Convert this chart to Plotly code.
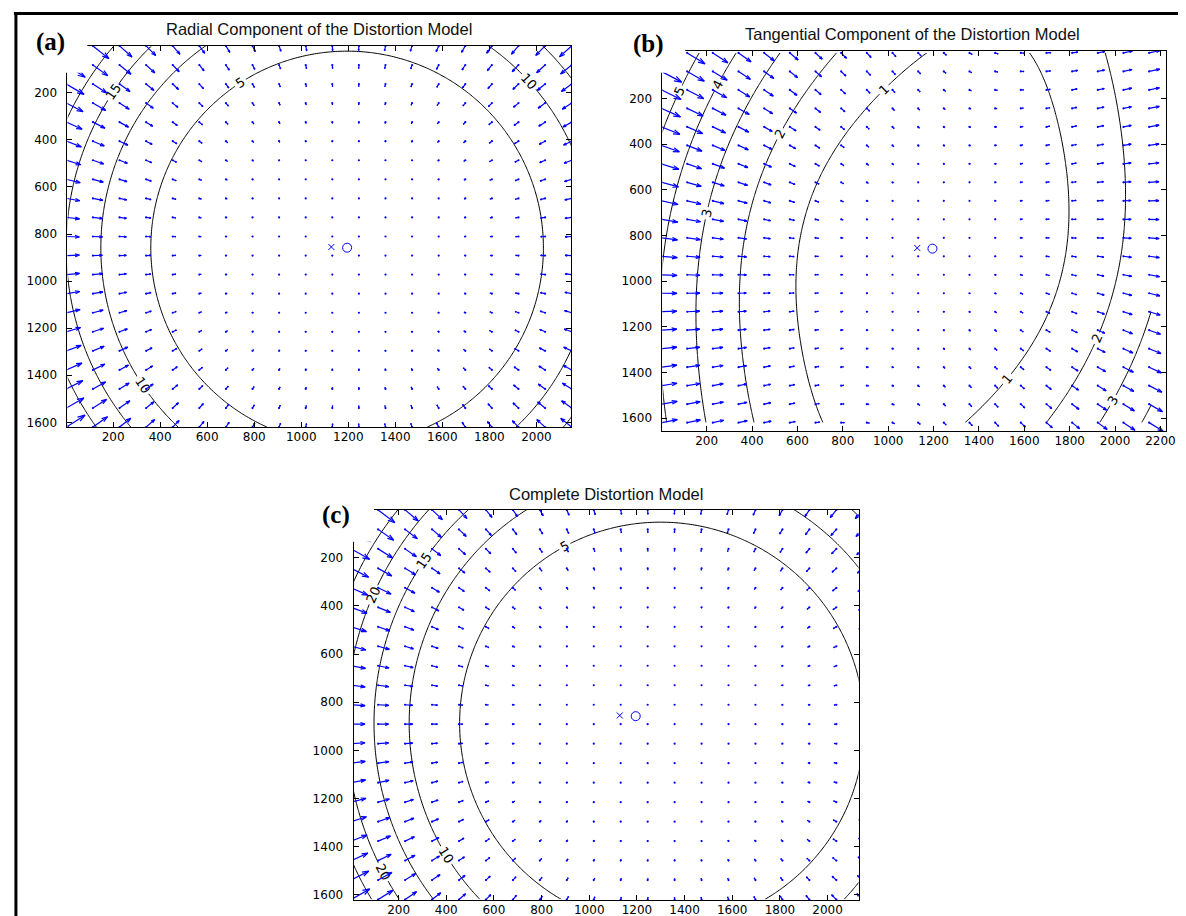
import numpy as np
import plotly.graph_objects as go

W, H = 1186, 916

# ---- values -----------------------------------------------------------------
IMAGE_SIZE = [2150, 1620]            # nx, ny of the calibrated image (pixels)
PRINCIPAL_POINT = [1195, 858]        # blue 'o'
IMAGE_CENTER = [1128, 855]           # blue 'x'
RADIAL_K = [8.4, 0.28]               # radial shift (px) = k1*r^3 + k2*r^5, r in units of 1000 px (inward)
TANGENTIAL_P = [0.30, 0.95]          # p1, p2 (px per (1000 px)^2)
GRID_COLS, GRID_ROWS = 20, 21        # quiver sample grid
ARROW_SCALE = 0.8                    # longest arrow relative to grid diagonal

PANEL_TITLES = ["Radial Component of the Distortion Model",
                "Tangential Component of the Distortion Model",
                "Complete Distortion Model"]
PANEL_LETTERS = ["(a)", "(b)", "(c)"]
PANEL_KINDS = ["radial", "tangential", "complete"]

CONTOUR_LEVELS_A = [5, 10, 15, 20, 25, 30]
CONTOUR_LEVELS_B = [1, 2, 3, 4, 5, 6]
CONTOUR_LEVELS_C = [5, 10, 15, 20, 25, 30, 35]

X_TICKS_A = [200, 400, 600, 800, 1000, 1200, 1400, 1600, 1800, 2000]
X_TICKS_B = [200, 400, 600, 800, 1000, 1200, 1400, 1600, 1800, 2000, 2200]
X_TICKS_C = [200, 400, 600, 800, 1000, 1200, 1400, 1600, 1800, 2000]
Y_TICKS = [200, 400, 600, 800, 1000, 1200, 1400, 1600]

X_RANGES = [[6, 2148], [5, 2225], [11, 2131]]
Y_RANGES = [[1, 1620], [-8, 1657], [1, 1622]]

# ---- layout (pixels) ----------------------------------------------------------
PLOT_BOX = [[60, 568, 38, 420], [660, 1168, 43, 424], [348.5, 858, 503, 894]]  # x0,x1,y0,y1
TITLE_POS = [[314, 21], [912, 26], [603, 487]]
LETTER_POS = [[43, 34], [646, 36], [331, 508]]
MASK_BOX = [[10, 80, 9, 65], [606, 683, 9, 65], [296, 369, 468, 535]]

BLUE = "rgb(0,0,255)"


def displacement(u, v, kind):
    X = (u - PRINCIPAL_POINT[0]) / 1000.0
    Y = (v - PRINCIPAL_POINT[1]) / 1000.0
    r2 = X * X + Y * Y
    k1, k2 = RADIAL_K
    p1, p2 = TANGENTIAL_P
    rdx = -(k1 * r2 + k2 * r2 * r2) * X
    rdy = -(k1 * r2 + k2 * r2 * r2) * Y
    tdx = 2 * p1 * X * Y + p2 * (r2 + 2 * X * X)
    tdy = p1 * (r2 + 2 * Y * Y) + 2 * p2 * X * Y
    if kind == "radial":
        return rdx, rdy
    if kind == "tangential":
        return tdx, tdy
    return rdx + tdx, rdy + tdy


def px2paper_x(px):
    return px / W


def px2paper_y(py):
    return 1 - py / H


fig = go.Figure()
levels_all = [CONTOUR_LEVELS_A, CONTOUR_LEVELS_B, CONTOUR_LEVELS_C]
xticks_all = [X_TICKS_A, X_TICKS_B, X_TICKS_C]

# contour field only over the image itself
cgx = np.linspace(0, IMAGE_SIZE[0] + 10, 218)
cgy = np.linspace(0, IMAGE_SIZE[1], 163)
CGX, CGY = np.meshgrid(cgx, cgy)

qx = np.linspace(1, IMAGE_SIZE[0], GRID_COLS)
qy = np.linspace(1, IMAGE_SIZE[1], GRID_ROWS)
QX, QY = np.meshgrid(qx, qy)

for i, kind in enumerate(PANEL_KINDS):
    sfx = "" if i == 0 else str(i + 1)
    xa, ya = "x" + sfx, "y" + sfx

    # quiver (MATLAB style arrows)
    u, v = displacement(QX, QY, kind)
    delx = (qx.max() - qx.min()) / GRID_COLS
    dely = (qy.max() - qy.min()) / GRID_ROWS
    ln = np.sqrt((u ** 2 + v ** 2) / (delx ** 2 + dely ** 2))
    s = ARROW_SCALE / ln.max()
    u = (u * s).ravel()
    v = (v * s).ravel()
    bx = QX.ravel()
    by = QY.ravel()
    alpha, beta = 0.33, 0.33
    xs, ys = [], []
    for x0, y0, uu, vv in zip(bx, by, u, v):
        tx, ty = x0 + uu, y0 + vv
        xs += [x0, tx, None,
               tx - alpha * (uu + beta * vv), tx, tx - alpha * (uu - beta * vv), None]
        ys += [y0, ty, None,
               ty - alpha * (vv - beta * uu), ty, ty - alpha * (vv + beta * uu), None]
    fig.add_trace(go.Scatter(x=xs, y=ys, xaxis=xa, yaxis=ya, mode="lines",
                             line=dict(color=BLUE, width=1.2),
                             hoverinfo="skip"))
    # tiny arrows show as dots
    fig.add_trace(go.Scatter(x=bx, y=by, xaxis=xa, yaxis=ya, mode="markers",
                             marker=dict(color=BLUE, size=2.2, line=dict(width=0)),
                             hoverinfo="skip"))

    # contour of the displacement magnitude
    dx, dy = displacement(CGX, CGY, kind)
    mag = np.hypot(dx, dy)
    lv = levels_all[i]
    fig.add_trace(go.Contour(
        x=cgx, y=cgy, z=mag, xaxis=xa, yaxis=ya,
        contours=dict(coloring="lines", start=lv[0], end=lv[-1], size=lv[1] - lv[0],
                      showlabels=True,
                      labelfont=dict(family="DejaVu Sans", size=13, color="black")),
        line=dict(width=1), colorscale=[[0, "black"], [1, "black"]],
        showscale=False, hoverinfo="skip"))

    # image centre and principal point
    fig.add_trace(go.Scatter(x=[IMAGE_CENTER[0]], y=[IMAGE_CENTER[1]], xaxis=xa, yaxis=ya,
                             mode="markers",
                             marker=dict(symbol="x-thin", size=6, color=BLUE,
                                         line=dict(width=1, color=BLUE)),
                             hoverinfo="skip"))
    fig.add_trace(go.Scatter(x=[PRINCIPAL_POINT[0]], y=[PRINCIPAL_POINT[1]], xaxis=xa, yaxis=ya,
                             mode="markers",
                             marker=dict(symbol="circle-open", size=9, color=BLUE,
                                         line=dict(width=1, color=BLUE)),
                             hoverinfo="skip"))

axis_common = dict(showline=True, linecolor="black", linewidth=1, mirror="ticks",
                   ticks="inside", ticklen=5, tickwidth=1, tickcolor="black",
                   showgrid=False, zeroline=False,
                   tickfont=dict(family="DejaVu Sans", size=12, color="black"))

layout_axes = {}
for i in range(3):
    sfx = "" if i == 0 else str(i + 1)
    x0, x1, y0, y1 = PLOT_BOX[i]
    layout_axes["xaxis" + sfx] = dict(
        axis_common, domain=[px2paper_x(x0), px2paper_x(x1)], range=X_RANGES[i],
        tickvals=xticks_all[i], anchor="y" + sfx, ticklabelstandoff=-1)
    layout_axes["yaxis" + sfx] = dict(
        axis_common, domain=[px2paper_y(y1), px2paper_y(y0)],
        range=[Y_RANGES[i][1], Y_RANGES[i][0]],
        tickvals=Y_TICKS, anchor="x" + sfx, ticklabelstandoff=7)

shapes = []
for (mx0, mx1, my0, my1) in MASK_BOX:
    shapes.append(dict(type="rect", xref="paper", yref="paper", layer="above",
                       x0=px2paper_x(mx0), x1=px2paper_x(mx1),
                       y0=px2paper_y(my1), y1=px2paper_y(my0),
                       fillcolor="white", line=dict(width=0)))
# outer frame (top and left rules)
shapes.append(dict(type="line", xref="paper", yref="paper", layer="above",
                   x0=px2paper_x(6), x1=1, y0=px2paper_y(5.5), y1=px2paper_y(5.5),
                   line=dict(color="black", width=3)))
shapes.append(dict(type="line", xref="paper", yref="paper", layer="above",
                   x0=px2paper_x(8), x1=px2paper_x(8), y0=0, y1=px2paper_y(4),
                   line=dict(color="black", width=3)))

annotations = []
for i in range(3):
    tx, ty = TITLE_POS[i]
    annotations.append(dict(text=PANEL_TITLES[i], xref="paper", yref="paper",
                            x=px2paper_x(tx), y=px2paper_y(ty), showarrow=False,
                            xanchor="center", yanchor="middle",
                            font=dict(family="Liberation Sans", size=16.5, color="#111")))
    lx, ly = LETTER_POS[i]
    annotations.append(dict(text="<b>" + PANEL_LETTERS[i] + "</b>", xref="paper", yref="paper",
                            x=px2paper_x(lx), y=px2paper_y(ly), showarrow=False,
                            xanchor="center", yanchor="middle",
                            font=dict(family="Liberation Serif", size=25, color="black")))

fig.update_layout(width=W, height=H, margin=dict(l=0, r=0, t=0, b=0),
                  paper_bgcolor="white", plot_bgcolor="white", showlegend=False,
                  shapes=shapes, annotations=annotations, **layout_axes)

fig.write_html("out.html")
